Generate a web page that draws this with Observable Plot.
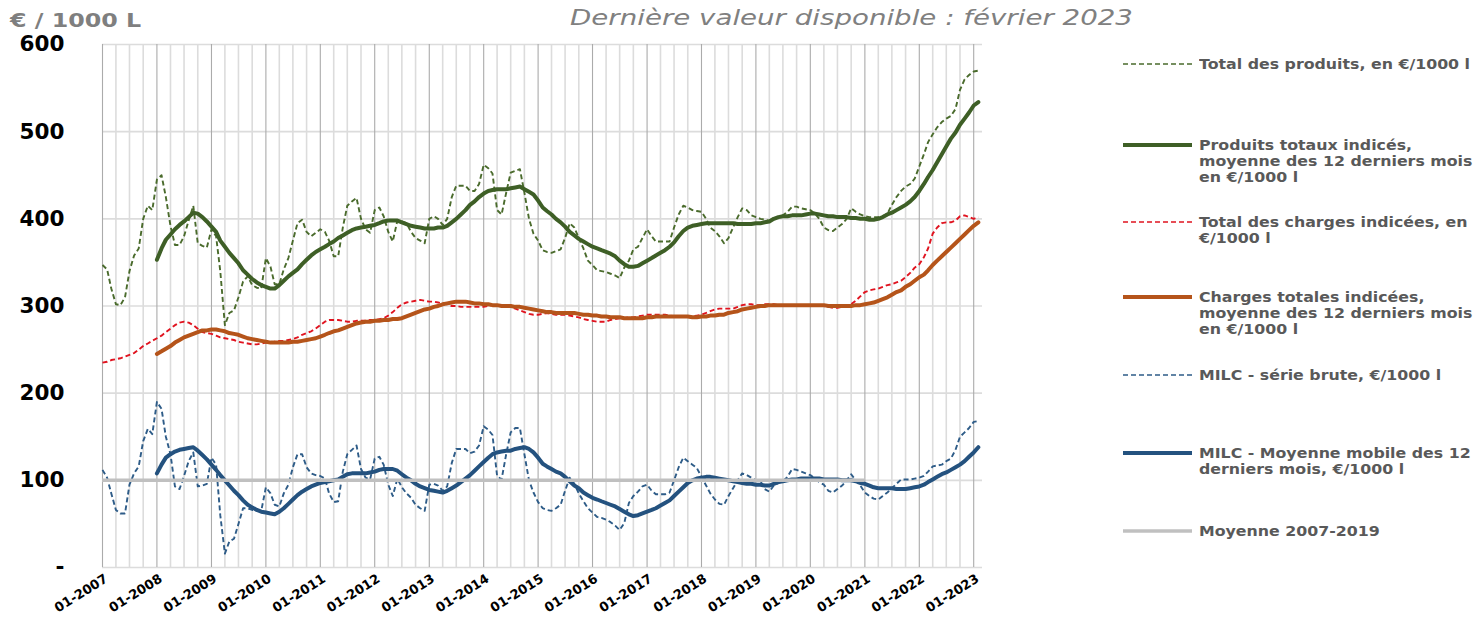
<!DOCTYPE html>
<html><head><meta charset="utf-8">
<script src="https://cdn.jsdelivr.net/npm/d3@7"></script>
<script src="https://cdn.jsdelivr.net/npm/@observablehq/plot@0.6"></script>
<style>
body{margin:0;background:#fff;width:1477px;height:621px;overflow:hidden;position:relative;font-family:"DejaVu Sans",sans-serif;}
#chart{position:absolute;left:0;top:0;}
#unit{position:absolute;left:10px;top:9px;font:bold 19px "DejaVu Sans";color:#7f7f7f;white-space:nowrap;transform:scaleX(1.25);transform-origin:0 50%;}
#title{position:absolute;left:570px;top:5px;font:oblique 22px "DejaVu Sans";color:#808080;white-space:nowrap;transform:scaleX(1.257);transform-origin:0 50%;}
.lg{position:absolute;left:1199px;font:bold 13.5px "DejaVu Sans";color:#595959;line-height:16px;white-space:nowrap;transform:scaleX(1.17);transform-origin:0 50%;}
.sw{position:absolute;left:1123px;}
</style></head><body>
<div id="chart"></div>
<div id="unit">€ / 1000 L</div>
<div id="title">Dernière valeur disponible : février 2023</div>
<div id="legend"></div>
<script>
// Monthly categories 01-2007 .. 02-2023
const firstMonth = new Date(Date.UTC(2007, 0, 1));
const domainEnd = new Date(Date.UTC(2023, 2, 1));
const months = d3.utcMonth.range(firstMonth, domainEnd);
const maOffset = 12; // moving averages start 01-2008

// Total des produits, en €/1000 l (from 01-2007)
const produits = [
347,342,320,302,301,310,340,358,366,400,415,410,
445,450,425,392,370,370,380,398,415,372,369,367,
388,380,340,278,292,295,310,328,334,324,321,320,
355,345,325,325,342,355,375,395,399,385,380,384,
388,385,375,357,357,390,415,420,424,400,388,384,
410,413,403,385,374,398,397,395,385,378,375,372,
400,403,400,393,400,425,438,438,438,432,432,440,
462,458,452,410,405,430,453,455,457,430,400,383,
375,364,362,361,363,365,378,395,390,378,366,352,
347,341,340,339,337,335,332,344,352,365,368,378,
388,380,374,374,374,374,390,405,415,413,410,409,
408,400,390,386,380,372,378,390,402,412,410,404,
402,400,399,398,400,402,404,408,414,414,412,411,
410,406,400,390,387,386,390,394,400,412,408,405,
403,402,402,402,403,406,416,425,432,437,440,446,
460,474,488,497,505,511,515,518,526,548,560,565,
569,570];

// Produits totaux indicés, moyenne 12 mois (from 01-2008)
const produitsMA = [
353,366,376,382,388,393,397,402,407,406,402,397,
391,385,375,368,361,355,349,341,336,331,327,324,
322,320,320,324,329,334,338,342,348,353,358,362,
365,368,371,374,378,381,384,387,389,390,391,392,
393,395,397,398,398,398,396,394,392,391,390,389,
389,389,390,390,392,396,400,405,410,416,420,425,
429,432,433,434,434,434,435,436,437,434,431,428,
421,413,409,405,400,396,391,385,381,377,374,371,
368,366,364,362,360,357,352,348,345,345,346,349,
352,355,358,361,364,368,373,380,386,390,392,393,
394,395,395,395,395,395,395,395,394,394,394,394,
395,395,396,397,400,402,403,403,404,404,404,405,
406,406,405,404,403,403,402,402,402,401,401,400,
400,399,399,400,402,405,407,410,413,416,420,425,
432,440,448,456,465,474,483,492,499,508,515,522,
530,534];

// Total des charges indicées, en €/1000 l (from 01-2007)
const charges = [
235,236,238,239,240,242,244,246,250,254,257,260,
263,266,270,274,278,281,282,281,278,274,270,269,
268,266,264,263,262,261,259,258,257,256,256,257,
258,258,259,260,260,261,262,264,267,269,271,274,
278,282,284,284,284,283,282,282,283,283,283,284,
284,285,286,289,293,298,302,304,305,306,307,306,
305,305,304,303,302,300,300,299,299,299,299,299,
299,300,301,301,300,300,299,297,295,293,291,290,
290,291,292,291,290,290,290,289,288,287,285,284,
283,282,282,282,284,285,286,286,287,287,288,289,
290,290,290,290,290,289,288,288,288,288,288,289,
290,292,294,296,297,297,297,297,299,301,302,302,
301,301,302,302,302,301,300,300,300,300,300,301,
301,301,300,300,299,298,298,299,300,302,306,311,
316,318,319,320,322,324,325,327,329,333,338,344,
348,356,366,383,390,395,396,396,398,403,404,402,
400,402];

// Charges totales indicées, moyenne 12 mois (from 01-2008)
const chargesMA = [
245,248,251,254,258,261,264,266,268,270,272,272,
273,273,272,271,269,268,267,265,263,262,261,260,
259,258,258,258,258,258,259,259,260,261,262,263,
265,267,269,271,272,274,276,278,280,281,282,282,
283,283,284,284,285,285,286,288,290,292,294,296,
297,299,300,302,303,304,305,305,305,304,303,303,
302,302,301,301,300,300,300,299,299,298,297,296,
295,294,293,293,292,292,292,292,292,291,290,290,
289,289,288,288,287,287,287,286,286,286,286,286,
287,287,288,288,288,288,288,288,288,288,287,287,
288,288,289,289,290,290,292,293,294,296,297,298,
299,300,300,301,301,301,301,301,301,301,301,301,
301,301,301,301,300,300,300,300,300,300,301,301,
302,303,304,306,308,310,313,316,318,322,325,329,
333,336,341,347,352,357,362,367,372,377,382,387,
392,396];

// MILC - série brute (from 01-2007)
const milc = [
112,103,85,66,62,62,95,108,116,145,159,153,
190,182,150,130,93,90,105,122,132,93,94,96,
126,118,60,16,30,33,50,68,68,66,65,65,
92,85,72,70,85,95,115,130,130,115,108,106,
105,102,85,75,76,110,130,135,140,113,103,101,
125,127,118,95,82,102,92,85,80,72,68,65,
95,96,94,88,93,120,136,136,136,131,133,140,
162,158,152,105,101,130,155,160,160,130,100,86,
75,68,66,65,68,72,88,103,96,85,76,68,
63,58,57,55,52,48,43,51,74,82,87,93,
95,88,84,84,84,86,100,115,126,122,118,114,
104,94,85,78,73,72,82,91,100,108,106,103,
100,99,90,87,94,97,99,104,113,112,110,108,
106,102,98,95,88,86,90,94,100,107,100,94,
86,82,79,78,82,86,91,96,101,101,101,102,
103,105,110,116,117,118,122,125,135,150,155,160,
167,168];

// MILC - moyenne mobile 12 mois (from 01-2008)
const milcMA = [
108,118,126,130,133,135,136,137,138,134,129,124,
118,112,106,100,94,88,83,77,72,69,66,64,
63,62,61,64,68,73,78,83,87,90,93,95,
97,98,99,100,101,104,107,108,108,108,108,109,
110,112,113,113,113,111,107,103,100,96,93,91,
89,88,87,86,88,91,94,98,102,106,111,116,
121,126,130,132,133,134,134,136,137,138,136,132,
126,119,116,113,110,108,104,99,94,91,86,83,
80,78,76,74,72,70,67,64,61,59,60,62,
64,66,68,71,74,77,82,87,92,97,100,102,
103,104,104,103,102,101,100,99,98,97,96,96,
95,95,94,94,96,98,99,100,101,101,102,102,
102,102,102,101,101,101,101,100,100,100,99,97,
96,94,92,91,91,91,91,90,90,90,91,92,
93,95,98,101,104,107,109,112,115,118,122,127,
132,138];

// Moyenne 2007-2019
const moyenneValue = 100;
const moyenneStart = "2007-01";
const moyenneEnd = "2021-01";

const yTicks = [0, 100, 200, 300, 400, 500, 600];

const legendItems = [
  {label: "Total des produits, en €/1000 l", color: "#4a6b2c", dash: "5,3", width: 1.6, top: 64},
  {label: "Produits totaux indicés,<br>moyenne des 12 derniers mois<br>en €/1000 l", color: "#3e5f26", dash: null, width: 4, top: 145},
  {label: "Total des charges indicées, en<br>€/1000 l", color: "#e0131f", dash: "5,3", width: 1.6, top: 222},
  {label: "Charges totales indicées,<br>moyenne des 12 derniers mois<br>en €/1000 l", color: "#b5541a", dash: null, width: 4, top: 297},
  {label: "MILC - série brute, €/1000 l", color: "#2e5c88", dash: "5,3", width: 1.6, top: 375},
  {label: "MILC - Moyenne mobile des 12<br>derniers mois, €/1000 l", color: "#24527f", dash: null, width: 4, top: 453},
  {label: "Moyenne 2007-2019", color: "#c0c0c0", dash: null, width: 3.5, top: 531}
];

const toRows = (values, offset) => values.map((v, i) => ({date: months[i + offset], value: v}));

const yearTicks = d3.utcYear.range(firstMonth, domainEnd);
const quarterTicks = d3.utcMonth.every(3).range(firstMonth, domainEnd).filter(d => d.getUTCMonth() !== 0);

const parseM = d3.utcParse("%Y-%m");
const moyenneRows = [{x1: parseM(moyenneStart), x2: parseM(moyenneEnd), y: moyenneValue}];

const lineOpt = (color, w, dash) => ({x: "date", y: "value", stroke: color, strokeWidth: w, strokeDasharray: dash || undefined, strokeLinejoin: "round", strokeLinecap: dash ? "butt" : "round"});

const chart = Plot.plot({
  width: 1477, height: 621,
  marginLeft: 102, marginRight: 495, marginTop: 44, marginBottom: 54,
  x: {type: "utc", domain: [firstMonth, domainEnd]},
  y: {domain: [0, 600]},
  style: {fontFamily: "DejaVu Sans", background: "white", color: "#000"},
  marks: [
    Plot.ruleX(quarterTicks, {stroke: "#dcdcdc", strokeWidth: 1.6}),
    Plot.ruleY(yTicks, {stroke: "#dcdcdc", strokeWidth: 1.6}),
    Plot.ruleX(yearTicks, {stroke: "#ababab", strokeWidth: 1.1}),
    Plot.line(toRows(produits, 0), lineOpt(legendItems[0].color, 1.9, "5,3")),
    Plot.line(toRows(produitsMA, maOffset), lineOpt(legendItems[1].color, 4, null)),
    Plot.line(toRows(charges, 0), lineOpt(legendItems[2].color, 1.9, "5,3")),
    Plot.line(toRows(chargesMA, maOffset), lineOpt(legendItems[3].color, 4, null)),
    Plot.line(toRows(milc, 0), lineOpt(legendItems[4].color, 1.9, "5,3")),
    Plot.line(toRows(milcMA, maOffset), lineOpt(legendItems[5].color, 4, null)),
    Plot.ruleY(moyenneRows, {x1: "x1", x2: "x2", y: "y", stroke: legendItems[6].color, strokeWidth: 3.5}),
    Plot.axisY({ticks: yTicks, tickFormat: d => d === 0 ? "-" : String(d), tickSize: 0, tickPadding: 38, fontSize: 21.5, fontWeight: "bold", fill: "#000", label: null}),
    Plot.axisX({ticks: yearTicks, tickFormat: d3.utcFormat("%m-%Y"), tickRotate: -32, tickSize: 0, tickPadding: 10, dx: 4, fontSize: 13, fontWeight: "bold", fill: "#000", label: null})
  ]
});
document.getElementById("chart").appendChild(chart);

const lg = document.getElementById("legend");
legendItems.forEach(it => {
  const sw = document.createElementNS("http://www.w3.org/2000/svg", "svg");
  sw.setAttribute("width", 70); sw.setAttribute("height", 8);
  sw.setAttribute("class", "sw");
  sw.style.top = (it.top - 4) + "px";
  const ln = document.createElementNS("http://www.w3.org/2000/svg", "line");
  ln.setAttribute("x1", 0); ln.setAttribute("x2", 69); ln.setAttribute("y1", 4); ln.setAttribute("y2", 4);
  ln.setAttribute("stroke", it.color); ln.setAttribute("stroke-width", it.width);
  if (it.dash) ln.setAttribute("stroke-dasharray", it.dash);
  sw.appendChild(ln);
  lg.appendChild(sw);
  const t = document.createElement("div");
  t.className = "lg";
  t.style.top = (it.top - 8) + "px";
  t.innerHTML = it.label;
  lg.appendChild(t);
});
</script>
</body></html>
